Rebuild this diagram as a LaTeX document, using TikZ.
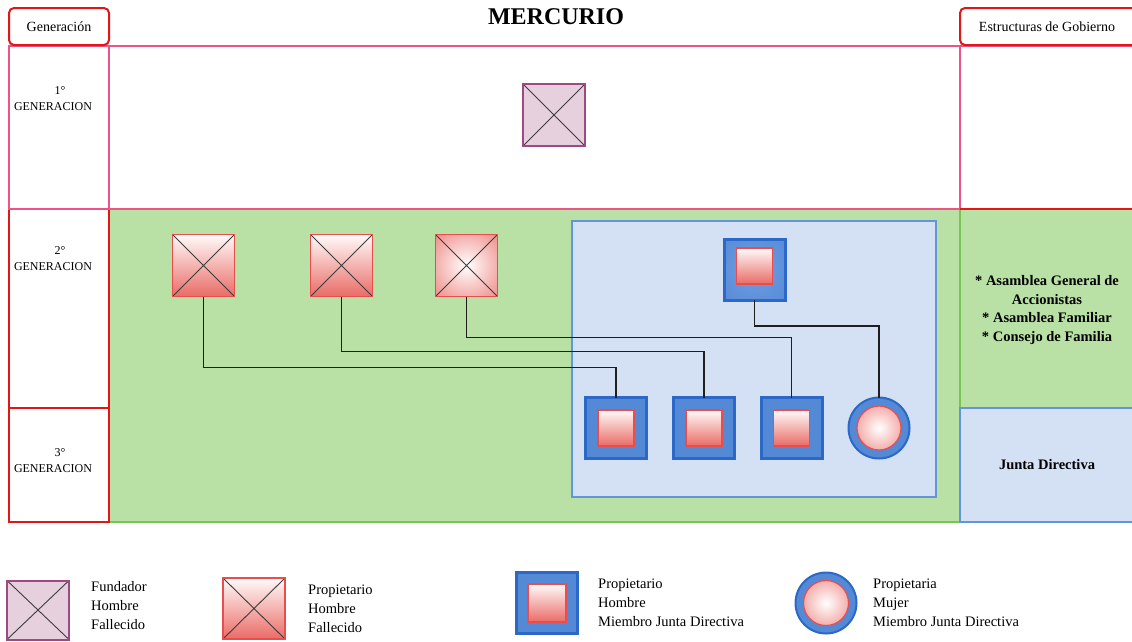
\documentclass[tikz,border=0pt]{standalone}
\usepackage{fontspec}
\setmainfont{Liberation Serif}

\definecolor{pinkline}{RGB}{236,84,134}
\definecolor{redline}{RGB}{226,22,22}
\definecolor{greenfill}{RGB}{185,224,165}
\definecolor{greenline}{RGB}{122,196,82}
\definecolor{bluefill}{RGB}{212,225,245}
\definecolor{blueline}{RGB}{100,148,218}
\definecolor{jdfill}{RGB}{84,137,214}
\definecolor{jdline}{RGB}{44,104,200}
\definecolor{jdlight}{RGB}{112,158,226}
\definecolor{ownred}{RGB}{234,107,102}
\definecolor{ownline}{RGB}{232,78,78}
\definecolor{fundfill}{RGB}{230,208,222}
\definecolor{fundline}{RGB}{158,74,130}
\definecolor{crossline}{RGB}{60,60,60}
\definecolor{linkline}{RGB}{30,30,30}

% soft radial fills for the round owner mark and the highlighted squares
\pgfdeclareradialshading{pearl}{\pgfpoint{0bp}{0bp}}{color(0bp)=(white); color(46bp)=(ownred); color(50bp)=(ownred)}
\pgfdeclareradialshading{bluesheen}{\pgfpoint{0bp}{0bp}}{color(0bp)=(jdlight); color(40bp)=(jdfill); color(50bp)=(jdline)}

\tikzset{
  grid/.style={line width=2},
  header/.style={draw=redline, line width=2, rounded corners=5, fill=white},
  gentext/.style={font=\fontsize{12}{16}\selectfont, align=center},
  legtext/.style={font=\fontsize{14.5}{19}\selectfont, align=left, anchor=west, inner sep=0},
  boldtext/.style={font=\bfseries\fontsize{14.5}{18.7}\selectfont, align=center},
  crossed/.style={path picture={\draw[crossline, line width=0.9]
      (path picture bounding box.north west) -- (path picture bounding box.south east)
      (path picture bounding box.north east) -- (path picture bounding box.south west);}},
  founder/.style={draw=fundline, fill=fundfill, line width=2, minimum size=62,
      inner sep=0, outer sep=0, crossed},
  deceased/.style={draw=ownline, line width=1.2, top color=white!97!ownred,
      bottom color=ownred, minimum size=62, inner sep=0, outer sep=0, crossed},
  deceasedglow/.style={draw=ownline, line width=1.2, shading=pearl, minimum size=62,
      inner sep=0, outer sep=0, crossed},
  member/.style={draw=jdline, fill=jdfill, line width=3, minimum size=61,
      inner sep=0, outer sep=0},
  memberglow/.style={member, shading=bluesheen},
  owner/.style={draw=ownline, line width=1.2, top color=white!97!ownred,
      bottom color=ownred, minimum size=36, inner sep=0, outer sep=0},
  memberround/.style={circle, draw=jdline, fill=jdfill, line width=2, minimum size=61,
      inner sep=0, outer sep=0},
  ownerround/.style={circle, draw=ownline, line width=1.2, shading=pearl,
      minimum size=44, inner sep=0, outer sep=0},
  link/.style={draw=linkline, line width=1.3},
}

\begin{document}
\begin{tikzpicture}[x=1pt, y=-1pt]
\useasboundingbox (0,0) rectangle (1132,641);
\clip (0,0) rectangle (1132,641);

% generation bands
\draw[grid, draw=greenline, fill=greenfill] (109,209) rectangle (960,522);
\draw[grid, draw=greenline, fill=greenfill] (960,209) rectangle (1145,408);
\draw[grid, draw=blueline, fill=bluefill] (960,408) rectangle (1145,522);
\draw[grid, draw=redline] (9,209) rectangle (109,408);
\draw[grid, draw=redline] (9,408) rectangle (109,522);
\draw[grid, draw=pinkline] (9,46) rectangle (109,209);
\draw[grid, draw=pinkline] (109,46) rectangle (960,209);
\draw[grid, draw=pinkline] (960,46) rectangle (1145,209);
\draw[grid, draw=redline] (960,209) -- (1145,209);

% column headers and title
\draw[header] (9,8) rectangle (109,45);
\node[font=\fontsize{14}{16}\selectfont] (hgen) at (59,27) {Generación};
\draw[header] (960,8) rectangle (1150,45);
\node[font=\fontsize{14}{16}\selectfont] (hgob) at (1047,27) {Estructuras de Gobierno};
\node[font=\bfseries\fontsize{24}{28}\selectfont] (title) at (556,17) {MERCURIO};

% generation labels
\node[gentext] (g1) at (53,99) {\hspace*{14pt}1°\\GENERACION};
\node[gentext] (g2) at (53,259) {\hspace*{14pt}2°\\GENERACION};
\node[gentext] (g3) at (53,461) {\hspace*{14pt}3°\\GENERACION};

% governance structures
\node[boldtext] (gov) at (1047,310) {* Asamblea General de\\Accionistas\\* Asamblea Familiar\\* Consejo de Familia};
\node[boldtext] (jd) at (1047,465) {Junta Directiva};

% board of directors frame
\draw[grid, draw=blueline, fill=bluefill] (572,221) rectangle (936,497);

% family members
\node[founder] (f) at (554,115) {};
\node[deceased] (r1) at (203.5,265.5) {};
\node[deceased] (r2) at (341.5,265.5) {};
\node[deceasedglow] (r3) at (466.5,265.5) {};

\node[memberglow] (jtop) at (754.5,269.5) {};
\node[owner] (jtopin) at (754.5,266) {};
\node[member] (jc1) at (616,428) {};
\node[owner] (jc1in) at (616,428) {};
\node[member] (jc2) at (704,428) {};
\node[owner] (jc2in) at (704,428) {};
\node[member] (jc3) at (791.5,428) {};
\node[owner] (jc3in) at (791.5,428) {};
\node[memberround] (jw) at (879,428) {};
\node[ownerround] (jwin) at (879,428) {};

% descent lines
\draw[link] (r1.south) -- ++(0,71) -| (jc1.north);
\draw[link] (r2.south) -- ++(0,55) -| (jc2.north);
\draw[link] (r3.south) -- ++(0,41) -| (jc3.north);
\draw[link] (jtop.south) -- ++(0,26) -| (jw.north);

% legend
\node[founder, minimum width=62, minimum height=59] (lf) at (38,610) {};
\node[legtext] (lft) at (91,606) {Fundador\\Hombre\\Fallecido};
\node[deceased, minimum width=62, minimum height=61] (ld) at (254,608.5) {};
\node[legtext] (ldt) at (308,609) {Propietario\\Hombre\\Fallecido};
\node[member] (lm) at (547,603) {};
\node[owner, minimum size=38] (lmin) at (547,603) {};
\node[legtext] (lmt) at (598,603) {Propietario\\Hombre\\Miembro Junta Directiva};
\node[memberround, line width=2] (lw) at (826,603) {};
\node[ownerround, minimum size=45] (lwin) at (826,603) {};
\node[legtext] (lwt) at (873,603) {Propietaria\\Mujer\\Miembro Junta Directiva};
\end{tikzpicture}
\end{document}
